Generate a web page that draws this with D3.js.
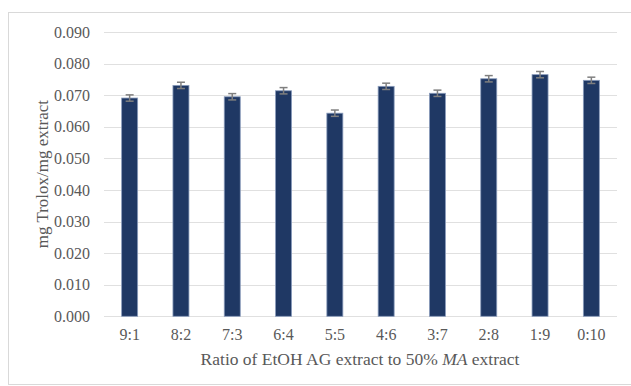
<!DOCTYPE html>
<html>
<head>
<meta charset="utf-8">
<script src="https://cdn.jsdelivr.net/npm/d3@7"></script>
<style>
  html, body { margin: 0; padding: 0; background: #fff; }
  svg { display: block; }
</style>
</head>
<body>
<svg id="chart" width="631" height="386"></svg>
<script>
// Antioxidant capacity for each extract blend ratio
const categories = ["9:1", "8:2", "7:3", "6:4", "5:5", "4:6", "3:7", "2:8", "1:9", "0:10"];
const values = [0.0691, 0.0731, 0.0695, 0.0714, 0.0643, 0.0728, 0.0706, 0.0752, 0.0765, 0.0747];
const errors = [0.0010, 0.0010, 0.0010, 0.0010, 0.0010, 0.0010, 0.0010, 0.0010, 0.0010, 0.0010];
const yTicks = [0, 0.01, 0.02, 0.03, 0.04, 0.05, 0.06, 0.07, 0.08, 0.09];

const svg = d3.select("#chart");
const font = "'Liberation Serif', 'Times New Roman', serif";

// chart frame
svg.append("rect")
  .attr("x", 8.5).attr("y", 12.5)
  .attr("width", 640).attr("height", 372)
  .attr("fill", "#fff").attr("stroke", "#d9d9d9").attr("stroke-width", 1);

const plot = { left: 104, right: 617, top: 32, bottom: 316.3 };

const x = d3.scaleBand()
  .domain(categories)
  .range([plot.left, plot.right])
  .paddingInner(0.688)
  .paddingOuter(0.344);

const y = d3.scaleLinear()
  .domain([0, 0.09])
  .range([plot.bottom, plot.top]);

// gridlines
svg.append("g")
  .selectAll("line")
  .data(yTicks)
  .join("line")
  .attr("x1", plot.left).attr("x2", plot.right)
  .attr("y1", d => Math.round(y(d)) + 0.5)
  .attr("y2", d => Math.round(y(d)) + 0.5)
  .attr("stroke", "#e0e0e0").attr("stroke-width", 1.2);

// y axis labels
const yAxis = d3.axisLeft(y).tickValues(yTicks).tickFormat(d3.format(".3f")).tickSize(0).tickPadding(14);
const gy = svg.append("g").attr("transform", `translate(${plot.left},0)`).call(yAxis);
gy.select(".domain").remove();
gy.selectAll("text")
  .attr("font-family", font).attr("font-size", 16).attr("fill", "#595959");

// x axis labels
const xAxis = d3.axisBottom(x).tickSize(0).tickPadding(12);
const gx = svg.append("g").attr("transform", `translate(0,${plot.bottom})`).call(xAxis);
gx.select(".domain").remove();
gx.selectAll("text")
  .attr("font-family", font).attr("font-size", 16).attr("fill", "#595959");

// bars
svg.append("g")
  .selectAll("rect")
  .data(categories)
  .join("rect")
  .attr("x", d => x(d))
  .attr("width", x.bandwidth())
  .attr("y", (d, i) => y(values[i]))
  .attr("height", (d, i) => y(0) - y(values[i]))
  .attr("fill", "#1f3864")
  .attr("stroke", "#8a9cbc").attr("stroke-width", 0.8);

// error bars
const eb = svg.append("g").attr("stroke", "#7f7f7f").attr("stroke-width", 1.5).attr("fill", "none");
categories.forEach((c, i) => {
  const cx = x(c) + x.bandwidth() / 2;
  const hi = y(values[i] + errors[i]);
  const lo = y(values[i] - errors[i]);
  eb.append("line").attr("x1", cx).attr("x2", cx).attr("y1", hi).attr("y2", lo);
  eb.append("line").attr("x1", cx - 4).attr("x2", cx + 4).attr("y1", hi).attr("y2", hi);
  eb.append("line").attr("x1", cx - 4).attr("x2", cx + 4).attr("y1", lo).attr("y2", lo);
});

// axis titles
const xt = svg.append("text")
  .attr("x", (plot.left + plot.right) / 2 - 0.5)
  .attr("y", 365)
  .attr("text-anchor", "middle")
  .attr("font-family", font).attr("font-size", 17.5).attr("fill", "#595959");
xt.append("tspan").text("Ratio of EtOH AG extract to 50% ");
xt.append("tspan").attr("font-style", "italic").text("MA");
xt.append("tspan").text(" extract");

svg.append("text")
  .attr("transform", `translate(48,${(plot.top + plot.bottom) / 2}) rotate(-90)`)
  .attr("text-anchor", "middle")
  .attr("font-family", font).attr("font-size", 17).attr("fill", "#595959")
  .text("mg Trolox/mg extract");
</script>
</body>
</html>
